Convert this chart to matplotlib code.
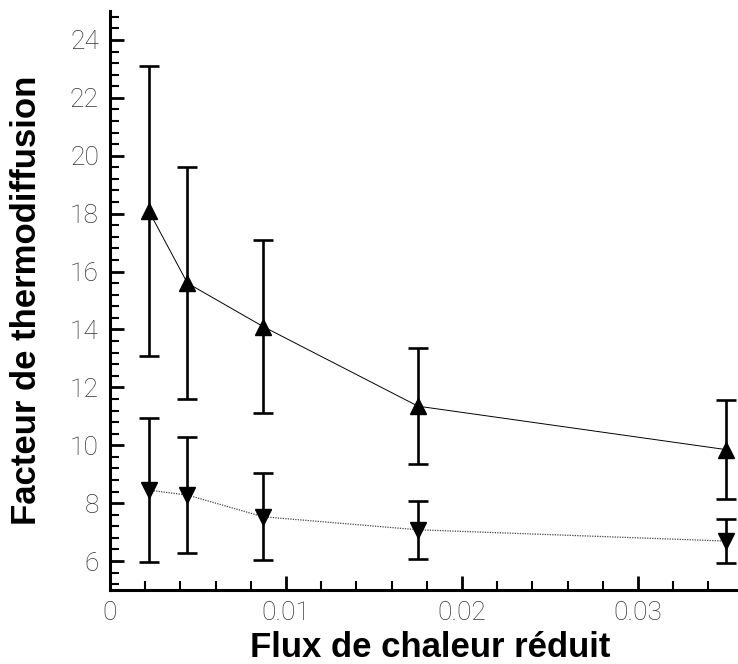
import matplotlib.pyplot as plt
from matplotlib.ticker import MultipleLocator

# reduced heat flux
flux = [0.0022, 0.0044, 0.0087, 0.0175, 0.035]

# upper series (triangles up)
up_val = [18.1, 15.6, 14.1, 11.35, 9.85]
up_err = [5.0, 4.0, 3.0, 2.0, 1.7]

# lower series (triangles down)
lo_val = [8.45, 8.28, 7.53, 7.08, 6.69]
lo_err = [2.5, 2.0, 1.5, 1.0, 0.76]

xticks = [0, 0.01, 0.02, 0.03]
xtick_labels = ['0', '0.01', '0.02', '0.03']
yticks = [6, 8, 10, 12, 14, 16, 18, 20, 22, 24]

fig = plt.figure(figsize=(7.38, 6.64), dpi=100)
ax = fig.add_axes([110 / 738, 74 / 664, 640 / 738, 579 / 664])

ax.errorbar(flux, up_val, yerr=up_err, fmt='none', ecolor='black',
            elinewidth=1.9, capsize=7.5, capthick=1.9, zorder=2)
ax.errorbar(flux, lo_val, yerr=lo_err, fmt='none', ecolor='black',
            elinewidth=1.9, capsize=7.5, capthick=1.9, zorder=2)
ax.plot(flux, up_val, color='black', lw=0.7, marker='^', ms=11, zorder=3)
ax.plot(flux, lo_val, color='#444444', lw=0.9, ls=(0, (1, 1)), zorder=3)
ax.plot(flux, lo_val, ls='none', color='black', marker='v', ms=11, zorder=4)

ax.set_xlim(0, 640 / 17600)
ax.set_ylim(5, 25)

for s in ['top', 'right']:
    ax.spines[s].set_visible(False)
for s in ['left', 'bottom']:
    ax.spines[s].set_linewidth(2.2)

ax.set_xticks(xticks)
ax.set_xticklabels(xtick_labels)
ax.set_yticks(yticks)
ax.xaxis.set_minor_locator(MultipleLocator(0.002))
ax.yaxis.set_minor_locator(MultipleLocator(0.4))
ax.tick_params(which='major', direction='in', length=10, width=2,
               labelsize=19, labelcolor='#333333', pad=8)
ax.tick_params(which='minor', direction='in', length=6.5, width=1.5)
for lab in ax.get_xticklabels() + ax.get_yticklabels():
    lab.set_family(['Roboto', 'DejaVu Sans'])
    lab.set_fontweight('light')

ax.set_xlabel('Flux de chaleur réduit', fontsize=25, fontweight='bold',
              family='Liberation Sans')
ax.set_ylabel('Facteur de thermodiffusion', fontsize=25, fontweight='bold',
              family='Liberation Sans')
ax.xaxis.set_label_coords(0.5, -0.07)
ax.yaxis.set_label_coords(-0.105, 0.5)

fig.savefig('out.png', dpi=100)
